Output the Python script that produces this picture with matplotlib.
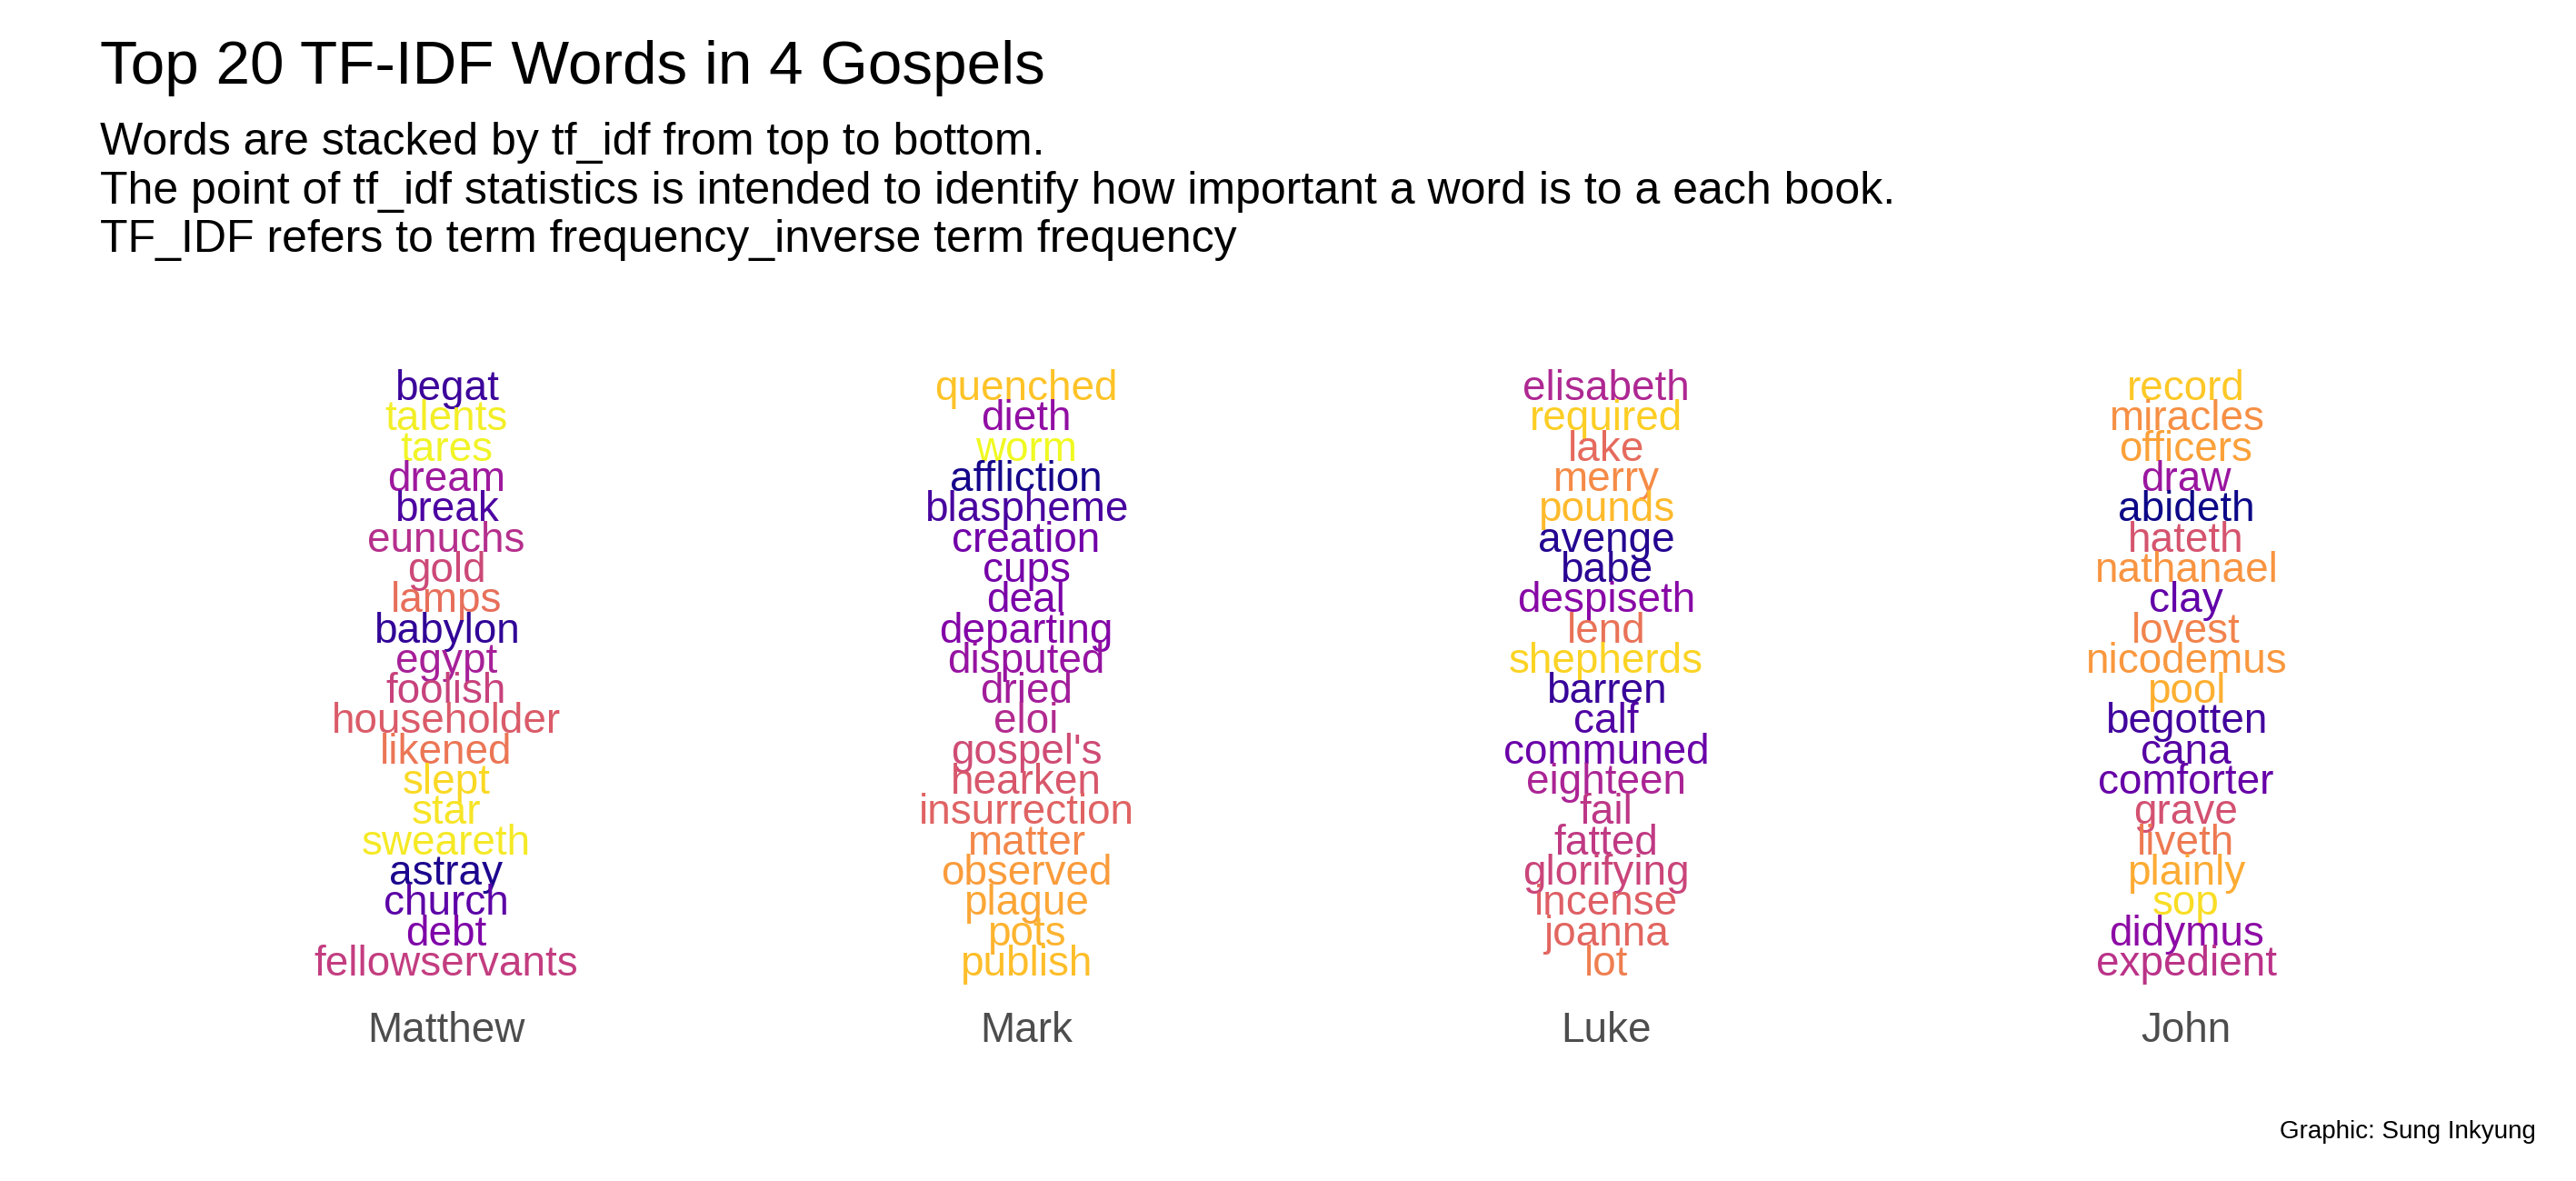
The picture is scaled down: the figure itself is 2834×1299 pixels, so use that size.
import numpy as np
import matplotlib
matplotlib.use("Agg")
import matplotlib.pyplot as plt

plt.rcParams['font.family'] = ['Liberation Sans', 'DejaVu Sans']

# books and their top 20 tf-idf words, top to bottom as drawn
books = ['Matthew', 'Mark', 'Luke', 'John']
matthew_words = ['begat', 'talents', 'tares', 'dream', 'break', 'eunuchs', 'gold',
                 'lamps', 'babylon', 'egypt', 'foolish', 'householder', 'likened',
                 'slept', 'star', 'sweareth', 'astray', 'church', 'debt',
                 'fellowservants']
mark_words = ['quenched', 'dieth', 'worm', 'affliction', 'blaspheme', 'creation',
              'cups', 'deal', 'departing', 'disputed', 'dried', 'eloi', "gospel's",
              'hearken', 'insurrection', 'matter', 'observed', 'plague', 'pots',
              'publish']
luke_words = ['elisabeth', 'required', 'lake', 'merry', 'pounds', 'avenge', 'babe',
              'despiseth', 'lend', 'shepherds', 'barren', 'calf', 'communed',
              'eighteen', 'fail', 'fatted', 'glorifying', 'incense', 'joanna', 'lot']
john_words = ['record', 'miracles', 'officers', 'draw', 'abideth', 'hateth',
              'nathanael', 'clay', 'lovest', 'nicodemus', 'pool', 'begotten', 'cana',
              'comforter', 'grave', 'liveth', 'plainly', 'sop', 'didymus', 'expedient']
book_words = [matthew_words, mark_words, luke_words, john_words]

title = 'Top 20 TF-IDF Words in 4 Gospels'
subtitle = ['Words are stacked by tf_idf from top to bottom.',
            'The point of tf_idf statistics is intended to identify how important a word is to a each book.',
            'TF_IDF refers to term frequency_inverse term frequency']
caption = 'Graphic: Sung Inkyung'

# colour each word by its alphabetical position among all words (plasma)
all_words = sorted(w.replace("'", "") for ws in book_words for w in ws)
pal = plt.cm.plasma(np.linspace(0, 1, len(all_words)))
word_col = {w: pal[i] for i, w in enumerate(all_words)}

W, H = 2834, 1299
fig = plt.figure(figsize=(W / 200, H / 200), dpi=200)
fig.patch.set_facecolor('white')

ax = fig.add_axes([172 / W, 1 - 1100 / H, (2724 - 172) / W, 700 / H])
for i, ws in enumerate(book_words):
    for j, w in enumerate(ws):
        ax.text(i, j, w, ha='center', va='baseline', fontsize=16.5,
                color=word_col[w.replace("'", "")])

ax.set_xlim(-0.5, 3.5)
ax.set_ylim(19 + 27 * 19 / 633, -40 * 19 / 633)
ax.set_xticks(range(len(books)))
ax.set_xticklabels(books)
ax.tick_params(axis='x', length=0, pad=4.3, labelsize=16.5, labelcolor='#4d4d4d')
ax.set_yticks([])
for s in ax.spines.values():
    s.set_visible(False)

fig.text(110 / W, 1 - 92 / H, title, fontsize=24.3, va='baseline', ha='left')
for k, line in enumerate(subtitle):
    fig.text(110 / W, 1 - (170 + 53.5 * k) / H, line, fontsize=18,
             va='baseline', ha='left')
fig.text(2790 / W, 1 - 1252 / H, caption, fontsize=10, va='baseline', ha='right')

fig.savefig('out.png', dpi=200, facecolor='white')
